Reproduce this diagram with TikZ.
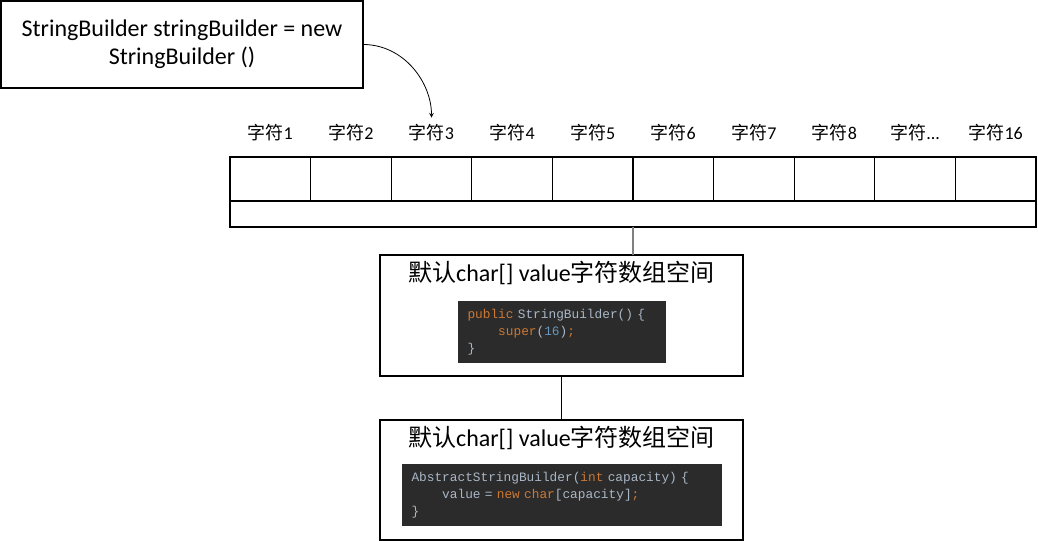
\documentclass[tikz,border=0pt]{standalone}
\usepackage{fontspec}
\setmainfont{Carlito}
\setmonofont{Liberation Mono}
\newfontfamily\cjk{Noto Sans CJK SC}
\usepackage{xcolor}
\usepackage{tikz}
\usetikzlibrary{arrows,positioning}

\definecolor{codebg}{HTML}{2B2B2B}
\definecolor{codetxt}{HTML}{A9B7C6}
\definecolor{codekw}{HTML}{CC7832}
\definecolor{codenum}{HTML}{6897BB}
\newcommand{\kw}[1]{\textcolor{codekw}{#1}}
\newcommand{\num}[1]{\textcolor{codenum}{#1}}
\newcommand{\ind}{\phantom{xxxx}}

\begin{document}
\begin{tikzpicture}[
  x=0.75pt, y=-0.75pt,
  frame/.style={rectangle, draw, line width=0.8pt, outer sep=0pt, inner sep=0pt},
  cell/.style={frame, minimum width=60.45pt, minimum height=33pt},
  lab/.style={font=\fontsize{13.5}{16}\selectfont, inner sep=1pt},
  title/.style={font=\fontsize{18}{21}\selectfont, inner sep=0pt},
  code/.style={rectangle, fill=codebg, text=codetxt, align=left, inner xsep=7.5pt, inner ysep=0pt,
    minimum height=46.5pt, font=\fontsize{9.6}{12.75}\selectfont\ttfamily},
  arrow/.style={->, >=stealth, line width=0.6pt}
]
\useasboundingbox (0,0) rectangle (1038,541);

% declaration
\node[frame, minimum width=271.5pt, minimum height=65.25pt, align=center,
  font=\fontsize{18}{21}\selectfont] (decl) at (182,44.5)
  {StringBuilder stringBuilder = new\\StringBuilder ()};

% the 16 chars
\node[cell] (c1) at (270.3,179) {};
\node[cell, right=0pt of c1] (c2) {};
\node[cell, right=0pt of c2] (c3) {};
\node[cell, right=0pt of c3] (c4) {};
\node[cell, right=0pt of c4] (c5) {};
\node[cell, right=0pt of c5] (c6) {};
\node[cell, right=0pt of c6] (c7) {};
\node[cell, right=0pt of c7] (c8) {};
\node[cell, right=0pt of c8] (c9) {};
\node[cell, right=0pt of c9] (c10) {};

\node[lab] (l1) at ([yshift=18pt]c1.north) {{\cjk 字符}1};
\node[lab] (l2) at ([yshift=18pt]c2.north) {{\cjk 字符}2};
\node[lab] (l3) at ([yshift=18pt]c3.north) {{\cjk 字符}3};
\node[lab] (l4) at ([yshift=18pt]c4.north) {{\cjk 字符}4};
\node[lab] (l5) at ([yshift=18pt]c5.north) {{\cjk 字符}5};
\node[lab] (l6) at ([yshift=18pt]c6.north) {{\cjk 字符}6};
\node[lab] (l7) at ([yshift=18pt]c7.north) {{\cjk 字符}7};
\node[lab] (l8) at ([yshift=18pt]c8.north) {{\cjk 字符}8};
\node[lab] (l9) at ([yshift=18pt]c9.north) {{\cjk 字符}...};
\node[lab] (l10) at ([yshift=18pt]c10.north) {{\cjk 字符}16};

\node[frame, minimum width=604.5pt, minimum height=19.5pt, anchor=north west] (bar) at (c1.south west) {};

% default array
\node[frame, minimum width=272.25pt, minimum height=90.75pt] (dflt) at (561.5,315.5) {};
\node[title] (t1) at ([yshift=-13.5pt]dflt.north) {{\cjk 默认}char[] value{\cjk 字符数组空间}};
\node[code, text width=141pt] (code1) at ([yshift=-57.75pt]dflt.north)
  {\kw{public} StringBuilder() \{\\
   \ind\kw{super}(\num{16})\kw{;}\\
   \}};

% parent constructor
\node[frame, minimum width=272.25pt, minimum height=90pt, below=33pt of dflt] (parent) {};
\node[title] (t2) at ([yshift=-13.5pt]parent.north) {{\cjk 默认}char[] value{\cjk 字符数组空间}};
\node[code, text width=225pt] (code2) at ([yshift=-56.25pt]parent.north)
  {AbstractStringBuilder(\kw{int} capacity) \{\\
   \ind value = \kw{new} \kw{char}[capacity]\kw{;}\\
   \}};

\draw[arrow, shorten >=4pt] (decl.east) to[out=0, in=90] (l3.north);
\draw[gray, line width=0.8pt] (bar.south) -- (bar.south |- dflt.north);
\draw[line width=0.8pt] (dflt.south) -- (parent.north);

\end{tikzpicture}
\end{document}
